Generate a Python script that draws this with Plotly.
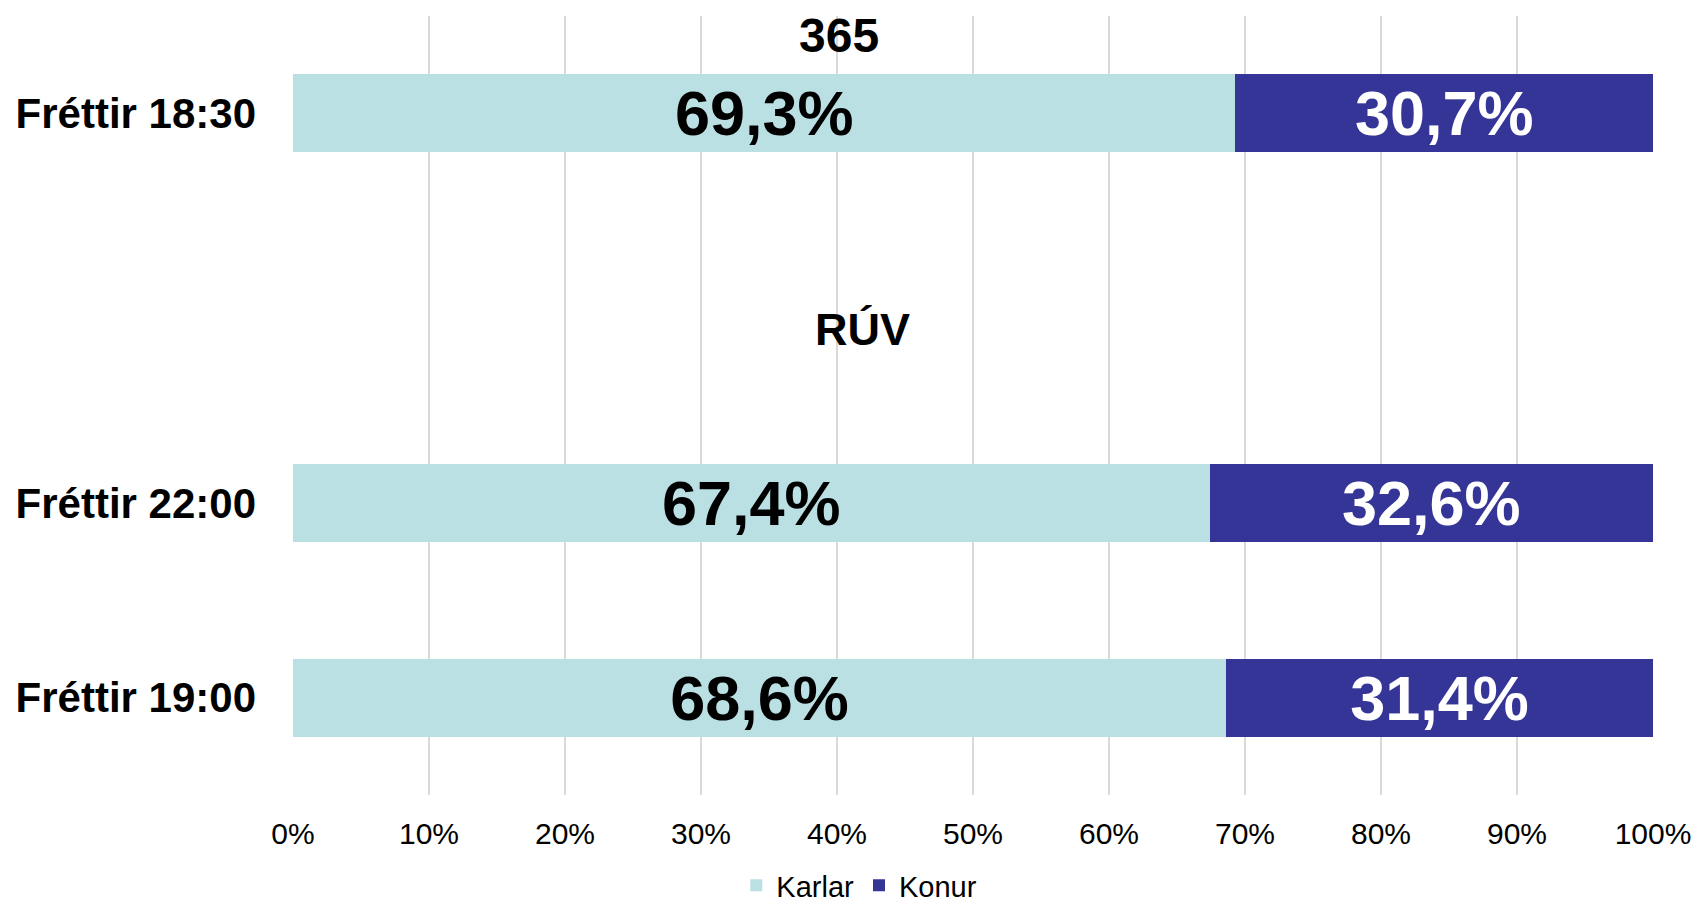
import plotly.graph_objects as go

categories = ["Fréttir 19:00", "Fréttir 22:00", " ", "Fréttir 18:30"]
bar_categories = ["Fréttir 19:00", "Fréttir 22:00", "Fréttir 18:30"]
karlar = [68.6, 67.4, 69.3]
konur = [31.4, 32.6, 30.7]
series_names = ["Karlar", "Konur"]
group_labels = ["365", "RÚV"]
tick_values = [0, 10, 20, 30, 40, 50, 60, 70, 80, 90, 100]
tick_labels = [f"{v}%" for v in tick_values]

FONT = "Liberation Sans, Arial, sans-serif"
C_KARLAR = "#BAE0E3"
C_KONUR = "#353598"

fig = go.Figure()
fig.add_trace(go.Bar(
    y=bar_categories, x=karlar, name=series_names[0], orientation="h",
    marker=dict(color=C_KARLAR, line=dict(width=0)), width=0.4,
    texttemplate="%{x:.1f}%", textposition="inside", insidetextanchor="middle",
    textfont=dict(family=FONT, size=63, color="black", weight="bold"),
    constraintext="none", hoverinfo="skip",
))
fig.add_trace(go.Bar(
    y=bar_categories, x=konur, name=series_names[1], orientation="h",
    marker=dict(color=C_KONUR, line=dict(width=0)), width=0.4,
    texttemplate="%{x:.1f}%", textposition="inside", insidetextanchor="middle",
    textfont=dict(family=FONT, size=63, color="white", weight="bold"),
    constraintext="none", hoverinfo="skip",
))

# group headings
fig.add_annotation(text=group_labels[0], xref="paper", yref="paper",
                   x=0.4016, y=0.976, showarrow=False, xanchor="center", yanchor="middle",
                   height=50,
                   font=dict(family=FONT, size=48, color="black", weight="bold"))
fig.add_annotation(text=group_labels[1], xref="paper", yref="paper",
                   x=0.4185, y=0.597, showarrow=False, xanchor="center", yanchor="middle",
                   font=dict(family=FONT, size=45, color="black", weight="bold"))

fig.update_layout(
    barmode="stack",
    separators=",.",
    width=1699, height=898,
    margin=dict(l=285, r=54, t=8, b=111, autoexpand=False),
    paper_bgcolor="white", plot_bgcolor="white",
    font=dict(family=FONT, color="black"),
    showlegend=True,
    legend=dict(orientation="h", x=0.4164, xanchor="center", y=-0.116, yanchor="middle",
                font=dict(family=FONT, size=29, color="black"), traceorder="normal",
                itemwidth=30, bgcolor="rgba(0,0,0,0)"),
    xaxis=dict(range=[0, 100], tickvals=tick_values, ticktext=tick_labels,
               showgrid=True, gridcolor="#D9D9D9", gridwidth=2, zeroline=False,
               showline=False, ticks="outside", ticklen=12, tickcolor="rgba(0,0,0,0)",
               tickfont=dict(family=FONT, size=30, color="black"), fixedrange=True),
    yaxis=dict(type="category", categoryorder="array", categoryarray=categories,
               range=[-0.5, 3.5], showgrid=False, zeroline=False, showline=False,
               ticks="", ticklabelstandoff=36,
               tickfont=dict(family=FONT, size=42, color="black", weight="bold"),
               fixedrange=True),
)

fig.write_html("out.html")
